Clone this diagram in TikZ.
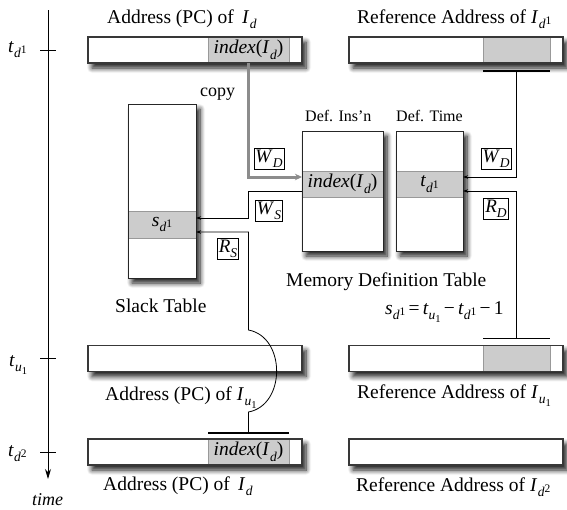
\documentclass[tikz,border=0pt]{standalone}
\usepackage{fontspec}
\setmainfont{Liberation Serif}
\usetikzlibrary{shadows.blur,arrows.meta,calc}

% font size helper and hand-made sub/superscripts in the text font
\newcommand\fs[1]{\fontsize{#1}{#1}\selectfont}
\newcommand\subx[1]{\raisebox{-0.28em}{\fs{13.5}#1}}
\newcommand\supx[1]{\raisebox{0.30em}{\fs{11.5}#1}}
\newcommand\subsubx[1]{\raisebox{-0.22em}{\fs{10.5}#1}}
\newcommand\Id{\textit{I}\kern0.03em\subx{\textit{d}}}
\newcommand\Idone{\textit{I}\kern0.03em\subx{\textit{d}\supx{1}}}
\newcommand\Idtwo{\textit{I}\kern0.03em\subx{\textit{d}\supx{2}}}
\newcommand\Iuone{\textit{I}\kern0.03em\subx{\textit{u}\subsubx{1}}}
\newcommand\tdone{\textit{t}\subx{\textit{d}\supx{1}}}
\newcommand\tdtwo{\textit{t}\subx{\textit{d}\supx{2}}}
\newcommand\tuone{\textit{t}\subx{\textit{u}\subsubx{1}}}
\newcommand\sdone{\textit{s}\subx{\textit{d}\supx{1}}}
\newcommand\idx{\textit{index}(\Id)}

\begin{document}
\begin{tikzpicture}[x=1pt,y=-1pt,
  shade/.style={blur shadow={shadow xshift=4pt, shadow yshift=-5pt,
      shadow blur radius=5pt, shadow blur steps=8, shadow opacity=90}},
  bar/.style={draw=black!78, line width=1.2pt, fill=white, outer sep=0pt,
      inner sep=0pt, minimum width=214pt, minimum height=26pt, shade},
  barline/.style={draw=black!78, line width=1.2pt},
  cell/.style={draw=black!40, fill=black!20, line width=0.6pt, outer sep=0pt,
      inner sep=0pt, minimum height=26pt, font=\fs{19.5}},
  tbl/.style={draw=black!85, line width=1pt, fill=white, outer sep=0pt,
      inner sep=0pt, shade},
  tblline/.style={draw=black!85, line width=1pt},
  tag/.style={draw, line width=0.8pt, inner sep=1.5pt, fill=white, font=\fs{19}},
  lbl/.style={anchor=base west, inner sep=0pt, font=\fs{19.5}},
  small/.style={anchor=base west, inner sep=0pt, font=\fs{16}},
  wire/.style={line width=0.8pt, -{Stealth[length=5pt,width=3.5pt]}},
  copywire/.style={line width=3pt, draw=black!45,
      -{Stealth[length=7pt,width=6.5pt]}},
  stopbar/.style={line width=1.2pt},
  tick/.style={line width=1pt},
]
\useasboundingbox (0,0) rectangle (567,509);

% ---- time axis ----
\coordinate (tlTop) at (48,10);
\coordinate (tlEnd) at (48,479);
\draw[line width=1pt, -{Stealth[length=10pt,width=6pt]}] (tlTop) -- (tlEnd);

% ---- instruction address / reference address bars ----
\node[bar] (pcA)  at (195,50) {};
\node[bar] (refA) at (456,50) {};
\node[bar] (pcB)  at (195,358.5) {};
\node[bar] (refB) at (456,358.5) {};
\node[bar] (pcC)  at (195,452) {};
\node[bar] (refC) at (456,452) {};

\node[cell, minimum width=81pt] (idxA)  at (248.5,50) {\idx};
\node[cell, minimum width=67pt] (refAc) at (516.5,50) {};
\node[cell, minimum width=67pt] (refBc) at (516.5,358.5) {};
\node[cell, minimum width=81pt] (idxC)  at (248.5,452) {\idx};

\foreach \b in {pcA,refA,pcB,refB,pcC,refC}
  \draw[barline] (\b.north west) rectangle (\b.south east);

% ---- tables ----
\node[tbl, minimum width=81pt, minimum height=120pt] (defIns)  at (342.5,191) {};
\node[tbl, minimum width=67pt, minimum height=120pt] (defTime) at (429.5,191) {};
\node[tbl, minimum width=68pt, minimum height=174pt] (slack)   at (162,191) {};

\node[cell, minimum width=81pt] (defInsRow)  at (342.5,184) {\idx};
\node[cell, minimum width=67pt] (defTimeRow) at (429.5,184) {\tdone};
\node[cell, minimum width=68pt, minimum height=27pt] (slackRow) at (162,224.5) {\sdone};

\foreach \t in {defIns,defTime,slack}
  \draw[tblline] (\t.north west) rectangle (\t.south east);

% ---- stop bars ----
\draw[stopbar] ($(refAc.south west)+(0,8)$) -- ($(refAc.south east)+(0,8)$);
\draw[stopbar] ($(refBc.north west)+(0,-7)$) -- ($(refBc.north east)+(0,-7)$);
\draw[stopbar] ($(idxC.north west)+(0,-6)$) -- ($(idxC.north east)+(0,-6)$);
\coordinate (wdStop) at ($(refAc.south)+(0,8)$);
\coordinate (rdStop) at ($(refBc.north)+(0,-7)$);
\coordinate (rsStop) at ($(idxC.north)+(0,-6)$);

% ---- connectors ----
\draw[copywire] (idxA.south) |- ($(defIns.west)+(0,-14)$);
\draw[wire] (defIns.west) -- (defIns.west -| idxA.south)
  |- ($(slackRow.east)+(0,-6.5)$);
\draw[wire] (rsStop) -- (248.5,412)
  .. controls (286,405) and (286,337) .. (248.5,330)
  -- (248.5,232) -- (slackRow.east |- 0,232);
\draw[wire] (wdStop) |- ($(defTime.east)+(0,-14)$);
\draw[wire] (rdStop) |- (defTime.east);

% ---- tags ----
\node[tag] (tWD)  at (269,159) {\textit{W}\subx{\textit{D}}};
\node[tag] (tWS)  at (269,211) {\textit{W}\subx{\textit{S}}};
\node[tag] (tRS)  at (228,249) {\textit{R}\subx{\textit{S}}};
\node[tag] (tWD2) at (496,159) {\textit{W}\subx{\textit{D}}};
\node[tag] (tRD)  at (496,209) {\textit{R}\subx{\textit{D}}};

% ---- axis ticks and labels ----
\foreach \b in {pcA,pcB,pcC}
  \draw[tick] ($(tlTop |- \b.west)+(-8,0)$) -- ++(16,0);
\node[lbl] (lt1) at (8,52) {\tdone};
\node[lbl] (lt2) at (9,366) {\tuone};
\node[lbl] (lt3) at (8,456) {\tdtwo};
\node[lbl, font=\fs{18}\itshape] (ltime) at (32,505) {time};

% ---- text labels ----
\node[lbl] (lpcA)  at (107,23)  {Address (PC) of \,\Id};
\node[lbl] (lrefA) at (357,23)  {Reference Address of \Idone};
\node[lbl] (lpcB)  at (105,400) {Address (PC) of \Iuone};
\node[lbl] (lrefB) at (357,398) {Reference Address of \Iuone};
\node[lbl] (lpcC)  at (103,490) {Address (PC) of \,\Id};
\node[lbl] (lrefC) at (356,491) {Reference Address of \Idtwo};
\node[lbl, font=\fs{18}] (lcopy) at (200,96) {copy};
\node[small] (ldefi) at (305,121) {Def. Ins'n};
\node[small] (ldeft) at (396,121) {Def. Time};
\node[lbl] (lmdt)  at (286,286) {Memory Definition Table};
\node[lbl] (lslk)  at (115,312) {Slack Table};
\node[lbl] (lform) at (385,314) {\sdone\,=\,\tuone\,−\,\tdone\,−\,1};
\end{tikzpicture}
\end{document}
